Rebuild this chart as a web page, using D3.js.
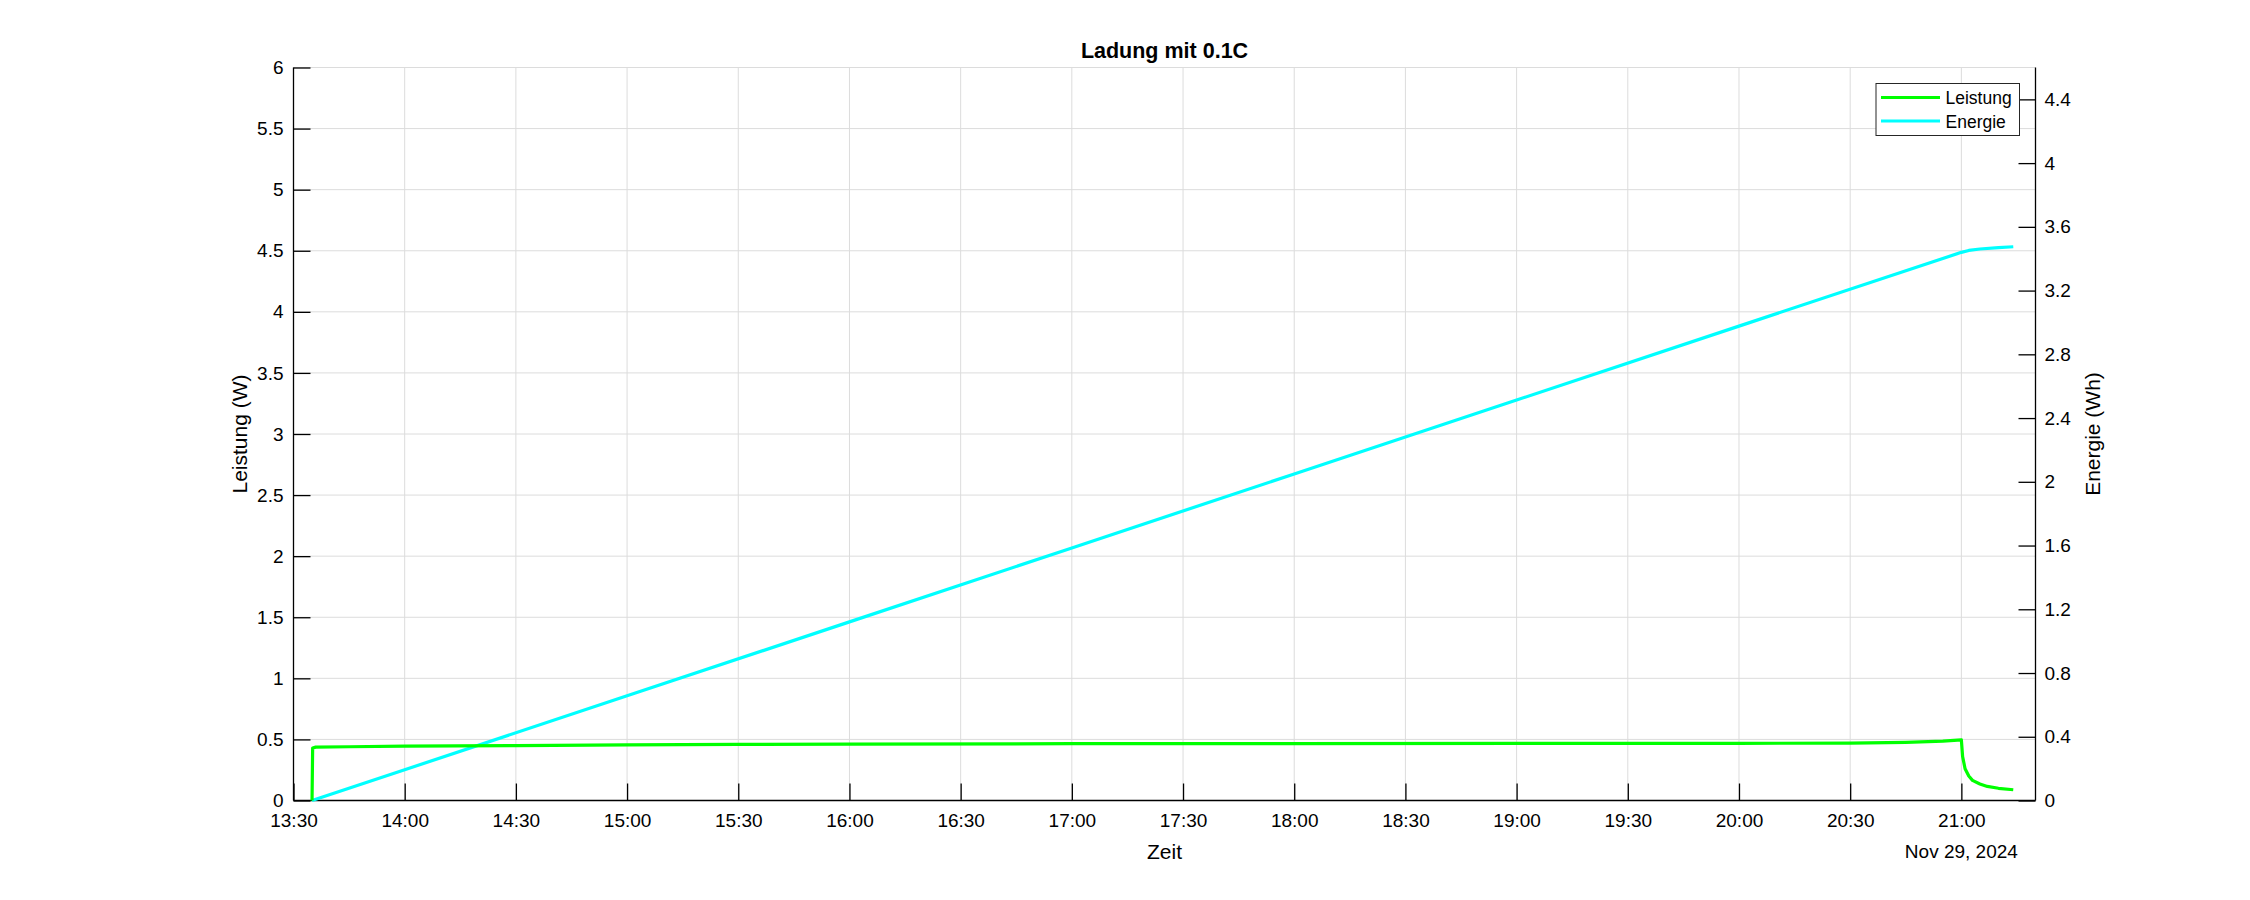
<!DOCTYPE html>
<html>
<head>
<meta charset="utf-8">
<script src="https://cdn.jsdelivr.net/npm/d3@7"></script>
<style>
  body { margin: 0; background: #fff; }
  text { font-family: "Liberation Sans", Arial, sans-serif; fill: #000; }
</style>
</head>
<body>
<script>
// data (Nov 29, 2024)
var powerTimes = ["13:35:00","13:35:10","13:36","13:45","14:00","14:30","15:00","15:30","16:00","17:00",
                  "18:00","19:00","20:00","20:30","20:45","20:55","21:00","21:00:20","21:01","21:02",
                  "21:03","21:05","21:07","21:10","21:14"];
var powerValues = [0, 0.43, 0.437, 0.44, 0.445, 0.45, 0.455, 0.459, 0.462, 0.465,
                   0.466, 0.467, 0.468, 0.47, 0.476, 0.486, 0.497, 0.36, 0.26, 0.2,
                   0.165, 0.135, 0.115, 0.1, 0.088];
var energyTimes = ["13:35","14:00","15:00","16:00","17:00","18:00","19:00","20:00","21:00","21:02","21:05","21:10","21:14"];
var energyValues = [0, 0.193, 0.657, 1.121, 1.585, 2.049, 2.513, 2.977, 3.44, 3.452, 3.461, 3.47, 3.475];
var xTickLabels = ["13:30","14:00","14:30","15:00","15:30","16:00","16:30","17:00","17:30","18:00",
                   "18:30","19:00","19:30","20:00","20:30","21:00"];
var leftTicks = [0,0.5,1,1.5,2,2.5,3,3.5,4,4.5,5,5.5,6];
var rightTicks = [0,0.4,0.8,1.2,1.6,2,2.4,2.8,3.2,3.6,4,4.4];

var W = 2250, H = 900;
var m = {left: 293.5, right: 2035.5, top: 67.5, bottom: 800.5};

function toDate(s) {
  var p = s.split(":");
  return new Date(2024, 10, 29, +p[0], +p[1], p[2] ? +p[2] : 0);
}

var svg = d3.select("body").append("svg").attr("width", W).attr("height", H);

var x = d3.scaleTime()
  .domain([toDate("13:30"), toDate("21:20")])
  .range([m.left, m.right]);
var yL = d3.scaleLinear().domain([0, 6]).range([m.bottom, m.top]);
var yR = d3.scaleLinear().domain([0, 4.6]).range([m.bottom, m.top]);

var xTicks = xTickLabels.map(toDate);
var tickFont = 19;
var labelFont = 21;

// grid
svg.append("g").selectAll("line").data(xTicks).enter().append("line")
  .attr("x1", d => x(d)).attr("x2", d => x(d))
  .attr("y1", m.top).attr("y2", m.bottom)
  .attr("stroke", "#dcdcdc").attr("stroke-width", 1);
svg.append("g").selectAll("line").data(leftTicks).enter().append("line")
  .attr("x1", m.left).attr("x2", m.right)
  .attr("y1", d => yL(d)).attr("y2", d => yL(d))
  .attr("stroke", "#dcdcdc").attr("stroke-width", 1);

// axes (ticks point inward like matlab)
var xAxis = svg.append("g").attr("transform", "translate(0," + m.bottom + ")")
  .call(d3.axisBottom(x).tickValues(xTicks).tickSize(-17).tickPadding(13)
    .tickFormat(d3.timeFormat("%H:%M")));
var lAxis = svg.append("g").attr("transform", "translate(" + m.left + ",0)")
  .call(d3.axisLeft(yL).tickValues(leftTicks).tickSize(-17).tickPadding(10)
    .tickFormat(d3.format("")));
var rAxis = svg.append("g").attr("transform", "translate(" + m.right + ",0)")
  .call(d3.axisRight(yR).tickValues(rightTicks).tickSize(-17).tickPadding(9)
    .tickFormat(d3.format("")));

[xAxis, lAxis, rAxis].forEach(function (g) {
  g.select(".domain").remove();
  g.selectAll(".tick line").attr("stroke", "#000").attr("stroke-width", 1.3);
  g.selectAll(".tick text").style("font-size", tickFont + "px")
    .style("font-family", "'Liberation Sans', Arial, sans-serif").attr("fill", "#000");
});
svg.append("line").attr("x1", m.left).attr("x2", m.right).attr("y1", m.bottom).attr("y2", m.bottom)
  .attr("stroke", "#000").attr("stroke-width", 1.3);
svg.append("line").attr("x1", m.left).attr("x2", m.left).attr("y1", m.top).attr("y2", m.bottom)
  .attr("stroke", "#000").attr("stroke-width", 1.3);
svg.append("line").attr("x1", m.right).attr("x2", m.right).attr("y1", m.top).attr("y2", m.bottom)
  .attr("stroke", "#000").attr("stroke-width", 1.3);

// lines
var powerData = powerTimes.map((t, i) => ({t: toDate(t), v: powerValues[i]}));
var energyData = energyTimes.map((t, i) => ({t: toDate(t), v: energyValues[i]}));

svg.append("path").datum(energyData)
  .attr("fill", "none").attr("stroke", "#00ffff").attr("stroke-width", 3.2)
  .attr("stroke-linejoin", "round")
  .attr("d", d3.line().x(d => x(d.t)).y(d => yR(d.v)));
svg.append("path").datum(powerData)
  .attr("fill", "none").attr("stroke", "#00ff00").attr("stroke-width", 3.2)
  .attr("stroke-linejoin", "round")
  .attr("d", d3.line().x(d => x(d.t)).y(d => yL(d.v)));

// title and labels
svg.append("text").attr("x", (m.left + m.right) / 2).attr("y", 58)
  .attr("text-anchor", "middle").style("font-size", "21.5px").style("font-weight", "bold")
  .text("Ladung mit 0.1C");
svg.append("text").attr("x", (m.left + m.right) / 2).attr("y", 859)
  .attr("text-anchor", "middle").style("font-size", labelFont + "px").text("Zeit");
svg.append("text").attr("x", x(toDate("21:00"))).attr("y", 858)
  .attr("text-anchor", "middle").style("font-size", tickFont + "px").text("Nov 29, 2024");
svg.append("text").attr("transform", "translate(247," + (m.top + m.bottom) / 2 + ") rotate(-90)")
  .attr("text-anchor", "middle").style("font-size", labelFont + "px").text("Leistung (W)");
svg.append("text").attr("transform", "translate(2100," + (m.top + m.bottom) / 2 + ") rotate(-90)")
  .attr("text-anchor", "middle").style("font-size", labelFont + "px").text("Energie (Wh)");

// legend
var legend = svg.append("g");
legend.append("rect").attr("x", 1876).attr("y", 83.5).attr("width", 143.5).attr("height", 52)
  .attr("fill", "#fff").attr("stroke", "#262626").attr("stroke-width", 1);
var legendItems = [{name: "Leistung", color: "#00ff00"}, {name: "Energie", color: "#00ffff"}];
legendItems.forEach(function (d, i) {
  var yy = 97.5 + i * 23.5;
  legend.append("line").attr("x1", 1881).attr("x2", 1940).attr("y1", yy).attr("y2", yy)
    .attr("stroke", d.color).attr("stroke-width", 3.2);
  legend.append("text").attr("x", 1945.5).attr("y", yy + 6.5)
    .style("font-size", "17.5px").text(d.name);
});
</script>
</body>
</html>
